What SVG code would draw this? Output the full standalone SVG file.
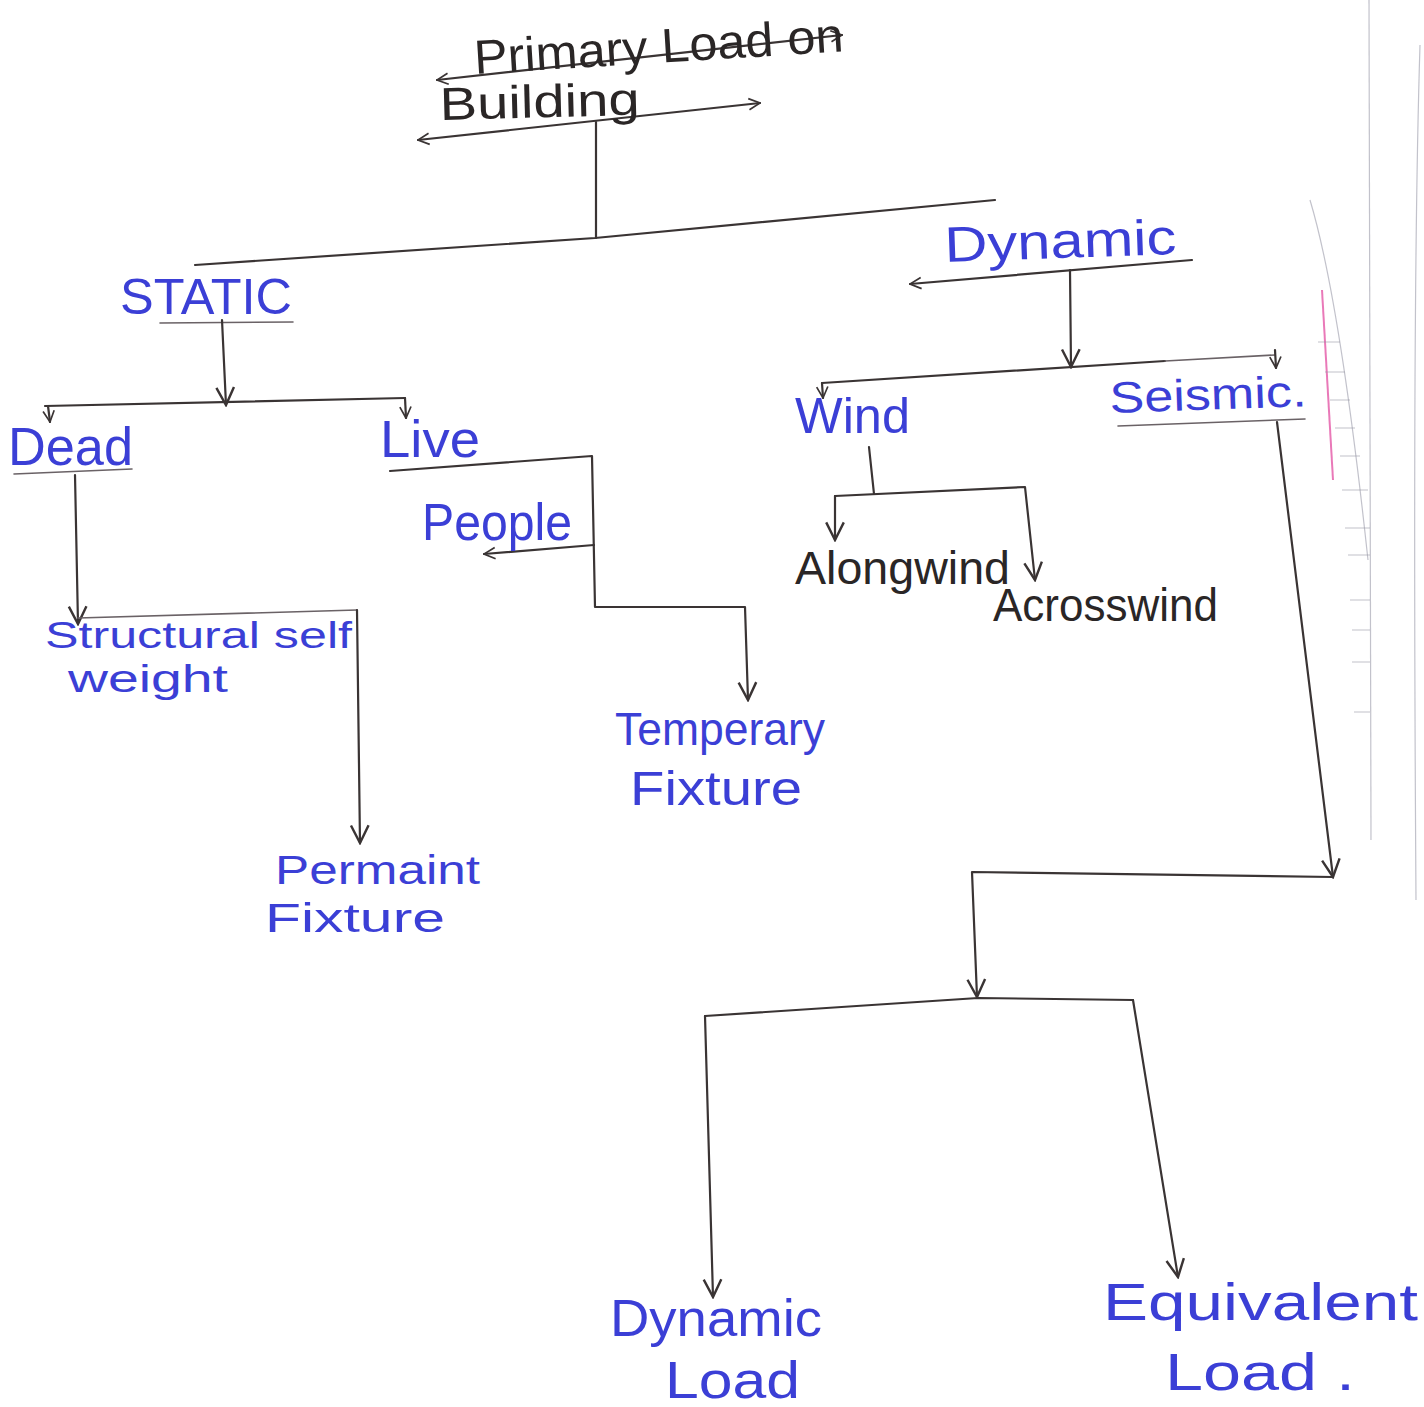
<svg xmlns="http://www.w3.org/2000/svg" width="1424" height="1407" viewBox="0 0 1424 1407">
<defs>
<style>
.c{fill:none;stroke:#3a3434;stroke-width:2.2;stroke-linecap:round;stroke-linejoin:round}
.cl{fill:none;stroke:#6a6266;stroke-width:1.6;stroke-linecap:round}
.b{font-family:"Liberation Sans","DejaVu Sans",sans-serif;fill:#3b3fd6}
.k{font-family:"Liberation Sans","DejaVu Sans",sans-serif;fill:#2a2626}
.m{fill:none;stroke:#9a9aa8;stroke-width:1.2;opacity:.6}
</style>
<marker id="a" viewBox="0 0 20 20" refX="18" refY="10" markerWidth="22" markerHeight="22" markerUnits="userSpaceOnUse" orient="auto-start-reverse">
<path d="M2,2 L18,10 L2,18" fill="none" stroke="#3a3434" stroke-width="2.2"/>
</marker>
<marker id="s" viewBox="0 0 20 20" refX="18" refY="10" markerWidth="14" markerHeight="14" markerUnits="userSpaceOnUse" orient="auto-start-reverse">
<path d="M2,2 L18,10 L2,18" fill="none" stroke="#3a3434" stroke-width="2.4"/>
</marker>
</defs>
<rect width="1424" height="1407" fill="#ffffff"/>

<g id="paper-margin">
<path class="m" d="M1369,0 L1371,840"/>
<path class="m" d="M1420,45 Q1412,300 1416,900"/>
<path d="M1322,290 L1333,480" stroke="#e0409a" stroke-width="2" fill="none" opacity=".7"/>
<path class="m" d="M1310,200 Q1340,300 1368,560"/>
<path class="m" d="M1318,342 L1340,342 M1325,372 L1345,372 M1330,400 L1350,400 M1335,428 L1355,428 M1340,456 L1360,456 M1342,490 L1368,490 M1345,528 L1370,528 M1348,555 L1370,555 M1350,600 L1370,600 M1352,630 L1370,630 M1352,662 L1370,662 M1354,712 L1370,712"/>
</g>

<g id="connectors">
<path class="c" d="M437,80 L842,35" marker-start="url(#s)" marker-end="url(#s)"/>
<path class="c" d="M418,140 L760,103" marker-start="url(#s)" marker-end="url(#s)"/>
<path class="c" d="M596,122 L596,238"/>
<path class="c" d="M195,265 L595,238 L995,200"/>
<path class="cl" d="M160,323 L293,322"/>
<path class="c" d="M222,320 L226,405" marker-end="url(#a)"/>
<path class="c" d="M45,406 L405,398"/>
<path class="c" d="M48,406 L50,422" marker-end="url(#s)"/>
<path class="c" d="M405,398 L406,418" marker-end="url(#s)"/>
<path class="cl" d="M14,474 L132,469"/>
<path class="c" d="M75,475 L78,624" marker-end="url(#a)"/>
<path class="cl" d="M78,618 L357,610"/>
<path class="c" d="M357,610 L360,843" marker-end="url(#a)"/>
<path class="c" d="M390,471 L592,456 L595,607 L745,607 L748,700" marker-end="url(#a)"/>
<path class="c" d="M594,545 L484,554" marker-end="url(#s)"/>
<path class="c" d="M1192,260 L910,284" marker-end="url(#s)"/>
<path class="c" d="M1070,270 L1071,367" marker-end="url(#a)"/>
<path class="c" d="M822,383 L1165,361"/>
<path class="cl" d="M1165,361 L1275,355"/>
<path class="c" d="M822,383 L823,398" marker-end="url(#s)"/>
<path class="c" d="M1275,350 L1276,368" marker-end="url(#s)"/>
<path class="c" d="M869,447 L874,494"/>
<path class="c" d="M835,496 L1025,487 L1035,580" marker-end="url(#a)"/>
<path class="c" d="M835,496 L835,540" marker-end="url(#a)"/>
<path class="cl" d="M1118,426 L1305,419"/>
<path class="c" d="M1277,422 L1333,877" marker-end="url(#a)"/>
<path class="c" d="M1333,877 L972,872 L977,997" marker-end="url(#a)"/>
<path class="c" d="M705,1016 L978,998 L1133,1000"/>
<path class="c" d="M705,1016 L713,1297" marker-end="url(#a)"/>
<path class="c" d="M1133,1000 L1178,1277" marker-end="url(#a)"/>
</g>

<g id="node-primary">
<text class="k" x="475" y="74" font-size="48" textLength="370" lengthAdjust="spacingAndGlyphs" transform="rotate(-3.5 475 74)">Primary Load on</text>
<text class="k" x="440" y="120" font-size="46" textLength="200" lengthAdjust="spacingAndGlyphs" transform="rotate(-1.5 440 120)">Building</text>
</g>
<g id="node-static"><text class="b" x="120" y="314" font-size="50" textLength="172" lengthAdjust="spacingAndGlyphs">STATIC</text></g>
<g id="node-dynamic"><text class="b" x="945" y="262" font-size="50" textLength="232" lengthAdjust="spacingAndGlyphs" transform="rotate(-2 945 262)">Dynamic</text></g>
<g id="node-dead"><text class="b" x="8" y="465" font-size="54" textLength="125" lengthAdjust="spacingAndGlyphs">Dead</text></g>
<g id="node-live"><text class="b" x="380" y="457" font-size="52" textLength="100" lengthAdjust="spacingAndGlyphs">Live</text></g>
<g id="node-wind"><text class="b" x="795" y="433" font-size="50" textLength="115" lengthAdjust="spacingAndGlyphs">Wind</text></g>
<g id="node-seismic"><text class="b" x="1110" y="413" font-size="44" textLength="197" lengthAdjust="spacingAndGlyphs" transform="rotate(-2 1110 413)">Seismic.</text></g>
<g id="node-structural">
<text class="b" x="45" y="648" font-size="36" textLength="307" lengthAdjust="spacingAndGlyphs">Structural self</text>
<text class="b" x="68" y="692" font-size="38" textLength="160" lengthAdjust="spacingAndGlyphs">weight</text>
</g>
<g id="node-people"><text class="b" x="422" y="540" font-size="52" textLength="150" lengthAdjust="spacingAndGlyphs">People</text></g>
<g id="node-temperary">
<text class="b" x="615" y="745" font-size="46" textLength="210" lengthAdjust="spacingAndGlyphs">Temperary</text>
<text class="b" x="630" y="805" font-size="48" textLength="172" lengthAdjust="spacingAndGlyphs">Fixture</text>
</g>
<g id="node-permaint">
<text class="b" x="275" y="884" font-size="40" textLength="205" lengthAdjust="spacingAndGlyphs">Permaint</text>
<text class="b" x="265" y="932" font-size="40" textLength="180" lengthAdjust="spacingAndGlyphs">Fixture</text>
</g>
<g id="node-alongwind"><text class="k" x="795" y="584" font-size="46" textLength="215" lengthAdjust="spacingAndGlyphs">Alongwind</text></g>
<g id="node-acrosswind"><text class="k" x="993" y="621" font-size="46" textLength="225" lengthAdjust="spacingAndGlyphs">Acrosswind</text></g>
<g id="node-dynamic-load">
<text class="b" x="610" y="1336" font-size="52" textLength="212" lengthAdjust="spacingAndGlyphs">Dynamic</text>
<text class="b" x="665" y="1398" font-size="52" textLength="135" lengthAdjust="spacingAndGlyphs">Load</text>
</g>
<g id="node-equivalent-load">
<text class="b" x="1103" y="1320" font-size="52" textLength="315" lengthAdjust="spacingAndGlyphs">Equivalent</text>
<text class="b" x="1165" y="1390" font-size="52" textLength="190" lengthAdjust="spacingAndGlyphs">Load .</text>
</g>
</svg>
